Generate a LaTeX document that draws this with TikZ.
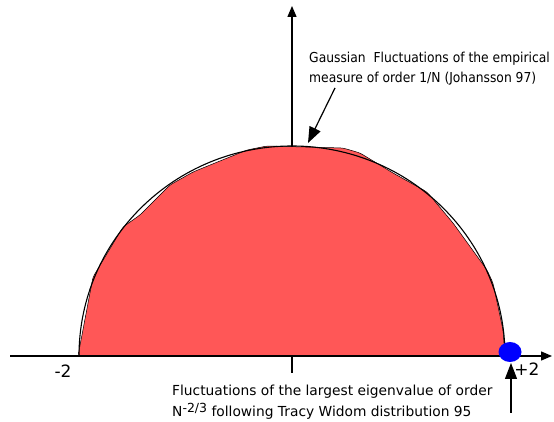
\documentclass[tikz,border=0pt]{standalone}
\usepackage{fontspec}
\setsansfont{DejaVu Sans}
\newfontfamily\narrowfont{DejaVu Sans Condensed}
\usetikzlibrary{arrows.meta}
\definecolor{lawred}{RGB}{255,87,87}

\begin{document}
\begin{tikzpicture}[
  x=1pt,y=1pt,
  font=\sffamily,
  axis/.style={-{Triangle[length=11pt,width=9pt]}, line width=1.3pt},
  pointer/.style={-{Triangle[length=16pt,width=12pt]}, line width=1.2pt},
  circleline/.style={draw=black, line width=1.1pt},
  density/.style={fill=lawred, draw=black, line width=0.5pt, rounded corners=3pt},
  comment/.style={align=left, anchor=north west, inner sep=0pt},
  endlabel/.style={font=\sffamily\fontsize{17}{17}\selectfont, inner sep=0pt}
]
\path[use as bounding box] (0,0) rectangle (554,422);

% Origin of the axes; the support of the law is [-2,2]
\coordinate (O) at (292,66);

% Vertical axis goes under the filled region
\draw[axis] (292,49) -- (292,416);

% Empirical measure, slightly below the semicircle
\path[density] (78,66) -- (93,145) -- (123,195) -- (140,207) -- (170,237)
  -- (193,250) -- (247,272) -- (267,276) -- (343,274) -- (360,269)
  -- (393,249) -- (427,230) -- (453,199) -- (487,152) -- (493,139)
  -- (503,92) -- (505,66) -- cycle;

% Semicircle law
\draw[circleline] (79,66) arc[start angle=180, end angle=0, x radius=213, y radius=210];

\draw[axis] (10,66) -- (552,66);

% Largest eigenvalue near the edge
\fill[blue] (510,70) ellipse[x radius=11.5, y radius=10];

\node[endlabel] (minus) at (63,51) {-2};
\node[endlabel] (plus) at (527,53) {+2};

% Comments
\node[comment, font=\narrowfont\fontsize{13.7}{20}\selectfont] (gauss) at (309,370)
  {Gaussian\ \ Fluctuations of the empirical\\measure of order 1/N (Johansson 97)};
\node[comment, font=\sffamily\fontsize{13.8}{21}\selectfont] (tracy) at (172,37)
  {Fluctuations of the largest eigenvalue of order\\
   N\raisebox{0.6ex}{\fontsize{12.5}{12}\selectfont -2/3} following Tracy Widom distribution 95};

\coordinate (gtail) at (335,334);
\coordinate (gtip) at (308,279);
\coordinate (ttail) at (511,9);
\coordinate (ttip) at (511,59);
\draw[pointer] (gtail) -- (gtip);
\draw[pointer] (ttail) -- (ttip);

\end{tikzpicture}
\end{document}
